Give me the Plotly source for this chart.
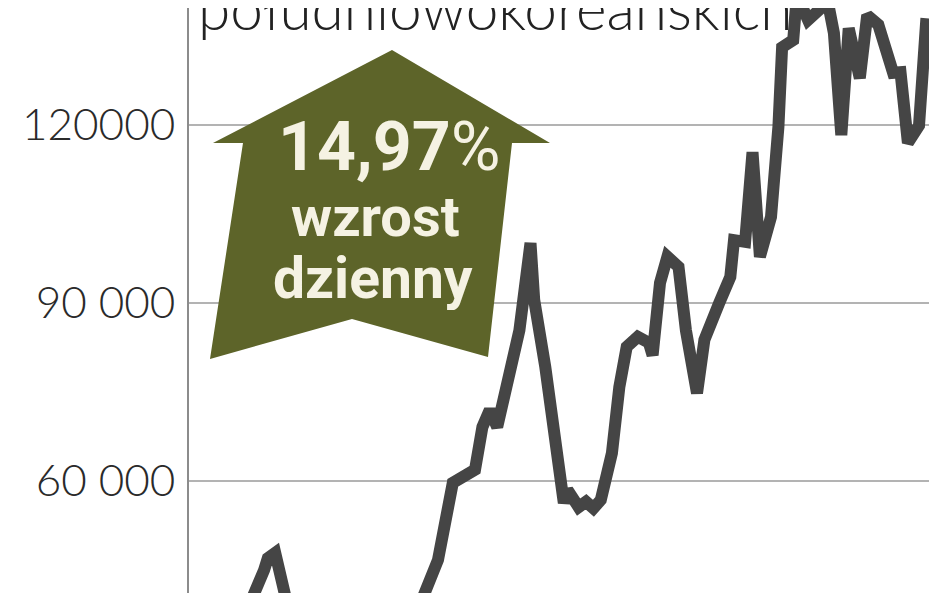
import plotly.graph_objects as go

# trading sessions (approximate positions)
sessions = [1, 7, 12, 16, 20, 21, 23, 26, 30, 35, 42, 49, 55, 61, 67, 71, 75, 77, 79, 81,
            83, 85, 87, 89, 92, 93, 96, 99, 101, 102, 105, 107, 109, 111, 114, 116, 118, 121,
            124, 125, 127, 129, 132, 134, 137, 139, 141, 143, 146, 147, 150, 152, 154, 157,
            159, 160, 163, 164, 167, 170, 172, 174, 176, 178, 181, 183, 186, 188, 190, 192,
            194, 197, 199]
# index value
values = [36600, 33200, 37400, 39100, 45000, 47000, 47900, 39900, 33200, 31500, 29800, 31500,
          33200, 37400, 46700, 59700, 61000, 61900, 69100, 72000, 69100, 74800, 79200, 85400,
          100100, 90500, 79200, 63500, 56300, 58500, 55600, 56500, 55400, 56800, 64700, 75800,
          82600, 84300, 83300, 81200, 93400, 97800, 96100, 85400, 74800, 83800, 87500, 90000,
          94400, 100600, 100300, 115400, 97800, 104500, 119700, 133100, 134300, 141900, 137700,
          139400, 141900, 135500, 118300, 136300, 127900, 138500, 136900, 133100, 128800,
          128900, 117000, 119900, 138000]

tick_vals = [60000, 90000, 120000]
tick_text = ["60 000", "90 000", "120000"]

title_text = "południowokoreańskich"
badge_lines = ["<b>14,97</b>%", "wzrost", "dzienny"]

fig = go.Figure()
fig.add_trace(go.Scatter(
    x=sessions, y=values, mode="lines",
    line=dict(color="#454545", width=12, shape="linear"),
    hoverinfo="skip", showlegend=False,
))

# page offset compensation
OFF = 8
W, H, L, R = 948, 593, 181, 27
pw = W - L - R
def px(x):
    return (x - OFF - L) / pw
def py(y):
    return (H - (y - OFF)) / H

# arrow badge (decoration, paper coordinates)
pts = [(392, 50), (550, 143), (512, 143), (488, 357), (352, 319), (210, 359), (243, 143), (213, 143)]
path = "M " + " L ".join(f"{px(a):.5f},{py(b):.5f}" for a, b in pts) + " Z"
fig.add_shape(type="path", path=path, xref="paper", yref="paper",
              fillcolor="#5d6429", line=dict(width=0), layer="above")

fig.add_annotation(text=badge_lines[0], xref="paper", yref="paper",
                   x=px(389), y=py(147), xanchor="center", yanchor="middle", showarrow=False,
                   font=dict(family="Roboto", size=68, color="#f5f2e3", weight=400))
fig.add_annotation(text="<b>" + badge_lines[1] + "</b>", xref="paper", yref="paper",
                   x=px(375), y=py(217), xanchor="center", yanchor="middle", showarrow=False,
                   height=48, valign="middle",
                   font=dict(family="Roboto", size=56, color="#f5f2e3"))
fig.add_annotation(text="<b>" + badge_lines[2] + "</b>", xref="paper", yref="paper",
                   x=px(373), y=py(278), xanchor="center", yanchor="middle", showarrow=False,
                   height=64, valign="middle",
                   font=dict(family="Roboto", size=57, color="#f5f2e3"))

fig.add_annotation(text=title_text, xref="paper", yref="paper",
                   x=px(196), y=py(7), xanchor="left", yanchor="middle", showarrow=False,
                   font=dict(family="Lato", size=58.5, color="#222222", weight=300))

fig.update_layout(
    width=W, height=H,
    margin=dict(l=L, r=R, t=0, b=0),
    paper_bgcolor="white", plot_bgcolor="white",
    xaxis=dict(range=[-0.3, 199.7], visible=False, fixedrange=True),
    yaxis=dict(range=[39775, 139719], tickvals=tick_vals, ticktext=tick_text,
               showgrid=True, gridcolor="#b3b3b3", gridwidth=2,
               showline=True, linecolor="#8c8c8c", linewidth=2,
               zeroline=False, ticks="", ticklabelstandoff=3,
               tickfont=dict(family="Lato", size=44, color="#2a2a2a", weight=300)),
)

fig.write_html("out.html")
